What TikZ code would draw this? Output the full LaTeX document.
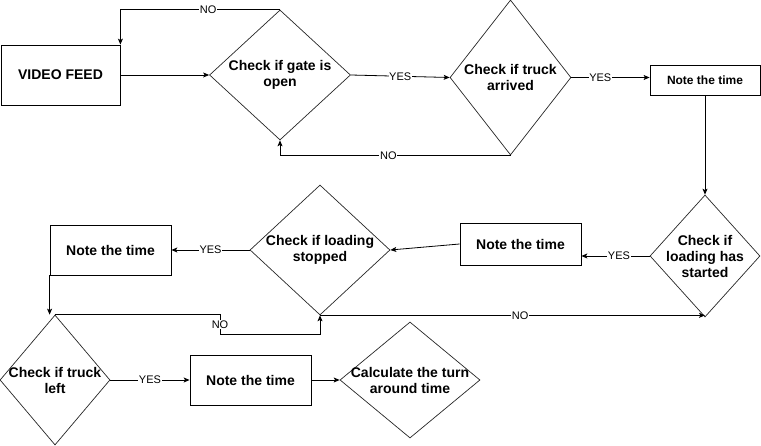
\documentclass[tikz,border=0pt]{standalone}
\usepackage{fontspec}
\setmainfont{Liberation Sans}
\usetikzlibrary{arrows.meta,shapes.geometric}
\tikzset{
  tt box/.style={
    draw=black,line width=0.8pt,inner sep=0pt,align=center,
    font=\bfseries\fontsize{14}{16}\selectfont
  },
  tt dec/.style={diamond,draw=black!85,line width=0.7pt,inner sep=0pt},
  tt text/.style={inner sep=0pt,align=center,font=\bfseries\fontsize{14}{16}\selectfont},
  tt edge/.style={black,line width=0.8pt,-{Stealth[length=6pt,width=5pt,inset=1.5pt]}},
  tt lbl/.style={fill=white,inner sep=0.6pt,font=\fontsize{11}{12}\selectfont}
}
\newcommand{\ttdecat}[5]{%
  \node[tt dec,minimum width=#3,minimum height=#4] (#1) at (#2) {};
  \node[tt text] (#1 text) at (#1.center) {#5};%
}

\begin{document}
\begin{tikzpicture}[x=1pt,y=-1pt]
  \useasboundingbox (0,0) rectangle (761,446);
  % first row
  \node[tt box,minimum width=119pt,minimum height=60pt] (feed) at (60.5,75) {VIDEO FEED};
  \ttdecat{gate}{280,75}{141pt}{130pt}{Check if gate is\\open}
  \ttdecat{truck}{510.5,77.5}{121pt}{155pt}{Check if truck\\arrived}
  \node[tt box,minimum width=110pt,minimum height=30pt,font=\bfseries\fontsize{12}{14}\selectfont]
    (note1) at (705,80) {Note the time};
  % second row
  \ttdecat{start}{705,256}{110pt}{122pt}{Check if\\loading has\\started}
  \node[tt box,minimum width=121pt,minimum height=42pt] (note2) at (520.5,244) {Note the time};
  \ttdecat{stop}{320,250}{140pt}{130pt}{Check if loading\\stopped}
  \node[tt box,minimum width=121pt,minimum height=50pt] (note3) at (110.5,250) {Note the time};
  % third row
  \ttdecat{left}{55,380}{110pt}{130pt}{Check if truck\\left}
  \node[tt box,minimum width=121pt,minimum height=50pt] (note4) at (250.5,380) {Note the time};
  \ttdecat{calc}{410,380}{140pt}{116pt}{Calculate the turn\\around time}

  \draw[tt edge] (feed) -- (gate.west);
  \draw[tt edge] (gate.north) -| node[tt lbl,pos=0.225] {NO} (feed.north east);
  \draw[tt edge] (gate.east) -- node[tt lbl] {YES} (truck.west);
  \draw[tt edge] (truck.south) -| node[tt lbl,pos=0.265] {NO} (gate.south);
  \draw[tt edge] (truck.east) -- node[tt lbl,pos=0.37] {YES} (truck.east -| note1.west);
  \draw[tt edge] (note1.south) -- (start.north);
  \draw[tt edge] (start.west) -- node[tt lbl,pos=0.45] {YES} (start.west -| note2.east);
  \draw[tt edge] (note2.west) -- (stop.east);
  \draw[tt edge] (stop.west) -- node[tt lbl] {YES} (note3.east);
  \draw[tt edge] (note3.south west) -- (note3.south west |- left.north);
  \draw[tt edge] (left.north) -- ++(165,0) -- ++(0,20) node[tt lbl,midway] {NO} -| (stop.south);
  \draw[tt edge] (stop.south) -- node[tt lbl,pos=0.52] {NO} (stop.south -| start.south);
  \draw[tt edge] (left.east) -- node[tt lbl] {YES} (note4.west);
  \draw[tt edge] (note4.east) -- (calc.west);
\end{tikzpicture}
\end{document}
